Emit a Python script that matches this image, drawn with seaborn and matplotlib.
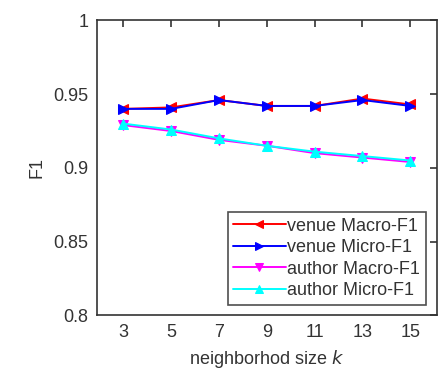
import matplotlib
matplotlib.use('Agg')
import matplotlib.pyplot as plt
import seaborn as sns
import pandas as pd

# data
k_values = [3, 5, 7, 9, 11, 13, 15]
venue_macro = [0.940, 0.941, 0.946, 0.942, 0.942, 0.947, 0.943]
venue_micro = [0.940, 0.940, 0.946, 0.942, 0.942, 0.946, 0.942]
author_macro = [0.929, 0.925, 0.919, 0.915, 0.910, 0.907, 0.904]
author_micro = [0.930, 0.926, 0.920, 0.915, 0.911, 0.908, 0.905]
series_names = ['venue Macro-F1', 'venue Micro-F1', 'author Macro-F1', 'author Micro-F1']
y_ticks = [0.8, 0.85, 0.9, 0.95, 1]
y_tick_labels = ['0.8', '0.85', '0.9', '0.95', '1']

sns.set_style('white')
plt.rcParams['font.family'] = ['Liberation Sans', 'DejaVu Sans']

df = pd.DataFrame({
    'k': k_values * 4,
    'F1': venue_macro + venue_micro + author_macro + author_micro,
    'series': [n for n in series_names for _ in k_values],
})

colors = ['#ff0000', '#0000ff', '#ff00ff', '#00ffff']
markers = ['<', '>', 'v', '^']

fig, ax = plt.subplots(figsize=(4.41, 3.71), dpi=100)
for name, c, m in zip(series_names, colors, markers):
    sns.lineplot(data=df[df['series'] == name], x='k', y='F1', ax=ax,
                 color=c, marker=m, markersize=7, markeredgecolor=c,
                 linewidth=1.4, label=name)

ax.set_xlim(1.9, 16.1)
ax.set_ylim(0.8, 1.0)
ax.set_xticks(k_values)
ax.set_yticks(y_ticks)
ax.set_yticklabels(y_tick_labels)
ax.tick_params(direction='in', length=5, width=1.2, top=True, right=True,
               labelsize=13, colors='#333333', pad=6)
for s in ax.spines.values():
    s.set_color('#333333')
    s.set_linewidth(1.2)
ax.set_xlabel('neighborhod size $\\it{k}$', fontsize=13, color='#333333', labelpad=5)
ax.set_ylabel('F1', fontsize=13, color='#333333', labelpad=6)

leg = ax.legend(loc='lower right', fontsize=13, frameon=True, fancybox=False,
                handlelength=2.9, handletextpad=0.1, borderpad=0.3,
                labelspacing=0.25, borderaxespad=0.6, markerscale=0.85)
leg.get_frame().set_edgecolor('#222222')
leg.get_frame().set_linewidth(1.2)
for t in leg.get_texts():
    t.set_color('#333333')

plt.subplots_adjust(left=0.22, right=0.99, top=0.945, bottom=0.15)
plt.savefig('out.png', dpi=100)
plt.close()
